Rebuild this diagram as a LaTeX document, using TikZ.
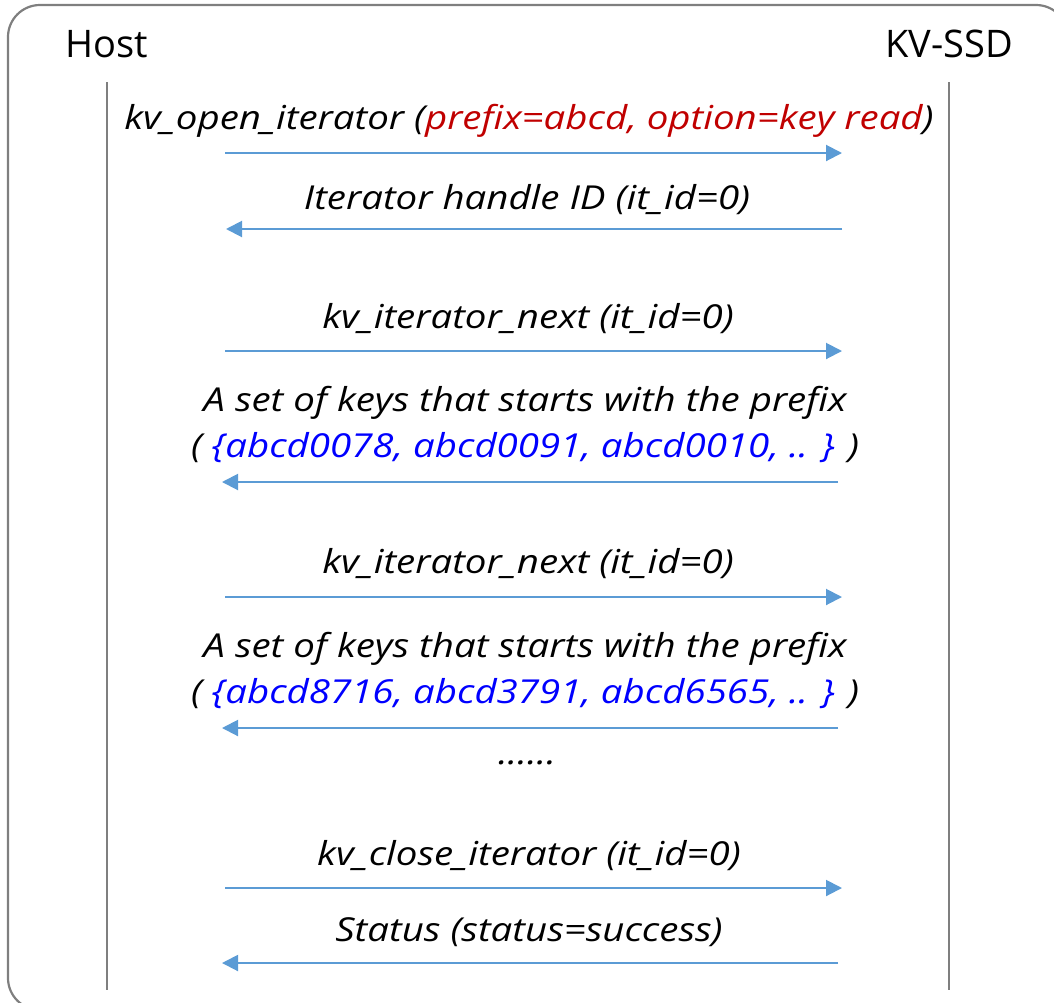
\documentclass[tikz,border=0pt]{standalone}
\usepackage{fontspec}
\setmainfont{Open Sans}
\newfontfamily\msgfont[FakeStretch=1.165]{Open Sans}
\usetikzlibrary{arrows.meta}
\definecolor{msgblue}{HTML}{5B9BD5}
\definecolor{argred}{HTML}{C00000}
\definecolor{keyblue}{HTML}{0000FF}
\definecolor{framegray}{HTML}{7F7F7F}
\tikzset{
  party/.style={font=\fontsize{38}{44}\selectfont, inner sep=0pt},
  msgtext/.style={font=\msgfont\fontsize{33}{46}\selectfont\itshape, inner sep=0pt, align=center},
  lifeline/.style={draw=framegray, line width=1.2pt},
  msg/.style={draw=msgblue, line width=2pt, -{Triangle[length=16pt, width=16pt]}},
}
\begin{document}
\begin{tikzpicture}[x=1pt, y=-1pt]
  \useasboundingbox (0,0) rectangle (1054,1002);
  \begin{scope}
    \clip (0,0) rectangle (1054,1002);
    \draw[framegray, line width=2.2pt, rounded corners=32pt] (8,5) rectangle (1068,1010);
  \end{scope}

  % participants
  \node[party, anchor=base] (host) at (107,57) {Host};
  \node[party, anchor=base] (ssd) at (949,57) {KV-SSD};

  % lifelines
  \coordinate (hostTop) at (107,82);
  \coordinate (hostBot) at (107,990);
  \coordinate (ssdTop) at (949,82);
  \coordinate (ssdBot) at (949,990);
  \draw[lifeline] (hostTop) -- (hostBot);
  \draw[lifeline] (ssdTop) -- (ssdBot);

  % message labels
  \node[msgtext] (t1) at (529,121) {kv\_open\_iterator (\textcolor{argred}{prefix=abcd, option=key read})};
  \node[msgtext] (t2) at (527,200) {Iterator handle ID (it\_id=0)};
  \node[msgtext] (t3) at (528,319) {kv\_iterator\_next (it\_id=0)};
  \node[msgtext] (t4) at (525,424) {A set of keys that starts with the prefix\\( \textcolor{keyblue}{\{abcd0078, abcd0091, abcd0010, .. \}} )};
  \node[msgtext] (t5) at (528,564) {kv\_iterator\_next (it\_id=0)};
  \node[msgtext] (t6) at (525,670) {A set of keys that starts with the prefix\\( \textcolor{keyblue}{\{abcd8716, abcd3791, abcd6565, .. \}} )};
  \node[msgtext] (dots) at (527,763) {......};
  \node[msgtext] (t7) at (529,856) {kv\_close\_iterator (it\_id=0)};
  \node[msgtext] (t8) at (529,932) {Status (status=success)};

  % message arrow ends
  \coordinate (a1s) at (225,153); \coordinate (a1e) at (842,153);
  \coordinate (a2s) at (842,229); \coordinate (a2e) at (226,229);
  \coordinate (a3s) at (225,351); \coordinate (a3e) at (842,351);
  \coordinate (a4s) at (838,482); \coordinate (a4e) at (222,482);
  \coordinate (a5s) at (225,597); \coordinate (a5e) at (842,597);
  \coordinate (a6s) at (838,728); \coordinate (a6e) at (222,728);
  \coordinate (a7s) at (225,888); \coordinate (a7e) at (842,888);
  \coordinate (a8s) at (838,963); \coordinate (a8e) at (222,963);

  \foreach \i in {1,...,8} {
    \draw[msg] (a\i s) -- (a\i e);
  }
\end{tikzpicture}
\end{document}
